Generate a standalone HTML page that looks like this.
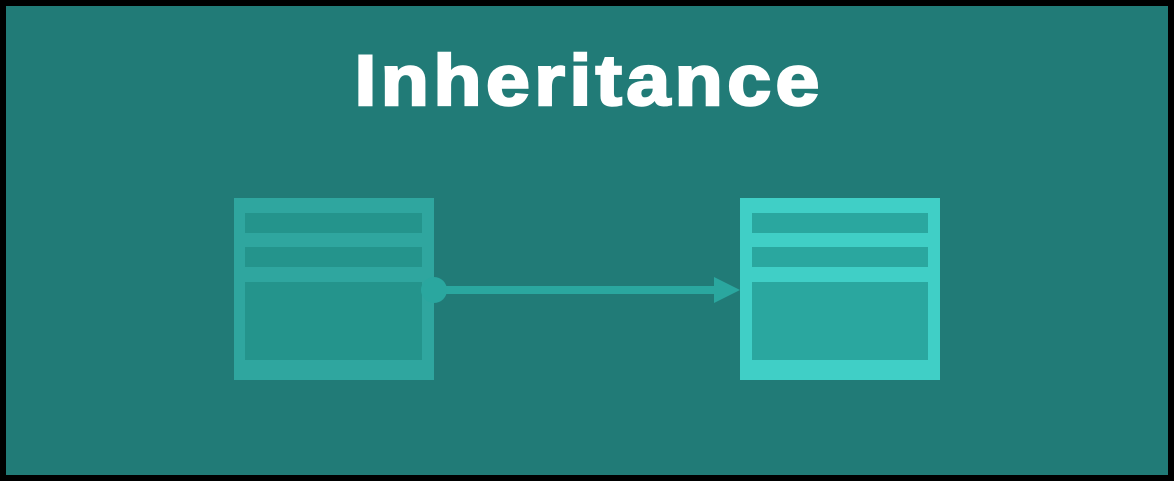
<!DOCTYPE html>
<html><head><style>
html,body{margin:0;padding:0}
body{width:1174px;height:481px;background:#000;position:relative;overflow:hidden}
.bg{position:absolute;left:6px;top:6px;width:1162px;height:469px;background:#217b77}
.t{position:absolute;left:0;width:1174px;top:37px;text-align:center;font:bold 71px/90px "Liberation Sans",sans-serif;color:#fff;letter-spacing:4px;text-indent:4px;-webkit-text-stroke:2.5px #fff;transform:scaleX(1.11);transform-origin:588px 0}
</style></head><body>
<div class="bg"></div>
<div class="t">Inheritance</div>
<svg width="1174" height="481" style="position:absolute;left:0;top:0">
<rect x="234" y="198" width="200" height="182" fill="#2fa69f"/>
<rect x="245" y="213" width="177" height="20" fill="#24948c"/>
<rect x="245" y="247" width="177" height="20" fill="#24948c"/>
<rect x="245" y="282" width="177" height="78" fill="#24948c"/>
<rect x="740" y="198" width="200" height="182" fill="#40cfc6"/>
<rect x="752" y="213" width="176" height="20" fill="#2aa79f"/>
<rect x="752" y="247" width="176" height="20" fill="#2aa79f"/>
<rect x="752" y="282" width="176" height="78" fill="#2aa79f"/>
<rect x="434" y="286" width="282" height="8" fill="#2aa79f"/>
<circle cx="434" cy="290" r="13" fill="#2aa79f"/>
<polygon points="714,277 740,290 714,303" fill="#2aa79f"/>
</svg>
</body></html>
